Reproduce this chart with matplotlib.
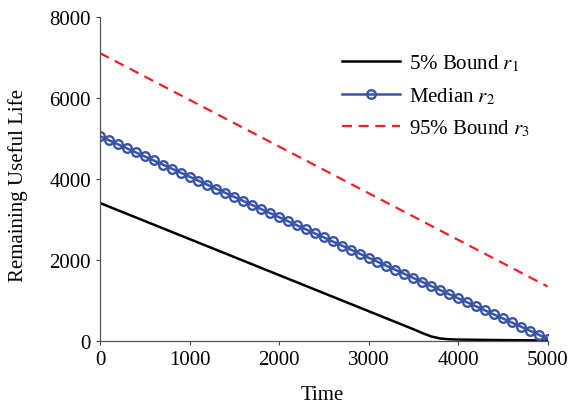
import matplotlib
matplotlib.use("Agg")
import matplotlib.pyplot as plt

plt.rcParams['font.family'] = ['Liberation Serif', 'DejaVu Serif']
plt.rcParams['mathtext.fontset'] = 'stix'

# 5% bound r1
t_r1 = [0, 500, 1000, 1500, 2000, 2500, 3000, 3500, 3600, 3700, 3800, 3900, 4000, 4500, 5000]
r1 = [3400, 2955, 2510, 2065, 1620, 1175, 730, 285, 190, 105, 55, 35, 28, 15, 5]

# Median r2 (sampled every 100)
t_r2 = list(range(0, 5001, 100))
r2 = [5050, 4950, 4850, 4750, 4650, 4550, 4450, 4350, 4250, 4150,
      4050, 3950, 3850, 3750, 3650, 3550, 3450, 3350, 3250, 3150,
      3050, 2950, 2850, 2750, 2650, 2550, 2450, 2350, 2250, 2150,
      2050, 1950, 1850, 1750, 1650, 1550, 1450, 1350, 1250, 1150,
      1050, 950, 850, 750, 650, 550, 450, 350, 250, 150, 50]

# 95% bound r3
t_r3 = [0, 5000]
r3 = [7100, 1340]

labels = ['5% Bound $r_1$', 'Median $r_2$', '95% Bound $r_3$']
xticks = [0, 1000, 2000, 3000, 4000, 5000]
yticks = [0, 2000, 4000, 6000, 8000]

W, H = 568, 402
fig = plt.figure(figsize=(W / 100, H / 100), dpi=100)
ax = fig.add_axes([100 / W, 1 - 341.7 / H, 447.5 / W, 324 / H])

ax.plot(t_r1, r1, color='black', lw=1.8, label=labels[0])
ax.plot(t_r2, r2, color='#3a55a8', lw=1.8, marker='o', markersize=6.2,
        markerfacecolor='none', markeredgewidth=1.7, label=labels[1])
ax.plot(t_r3, r3, color='#f0202a', lw=1.6, ls=(0, (4.5, 3)), label=labels[2])

ax.set_xlim(0, 5000)
ax.set_ylim(0, 8000)
ax.set_xticks(xticks)
ax.set_yticks(yticks)
ax.tick_params(labelsize=15, direction='out', length=3, width=0.8,
               colors='#444444', labelcolor='black', pad=3.5)
for s in ['top', 'right']:
    ax.spines[s].set_visible(False)
for s in ['left', 'bottom']:
    ax.spines[s].set_color('#555555')
    ax.spines[s].set_linewidth(0.9)

fig.text(18 / W, 1 - 186 / H, 'Remaining Useful Life', fontsize=15,
         rotation=90, ha='center', va='center')
fig.text(322 / W, 1.5 / H, 'Time', fontsize=15, ha='center', va='baseline')

leg = ax.legend(loc='upper left', bbox_to_anchor=(342 / W, 1 - 54 / H),
                bbox_transform=fig.transFigure, frameon=False, fontsize=15,
                borderpad=0, borderaxespad=0,
                labelspacing=0.55, handlelength=2.8, handletextpad=0.4)

fig.savefig('out.png', dpi=100)
